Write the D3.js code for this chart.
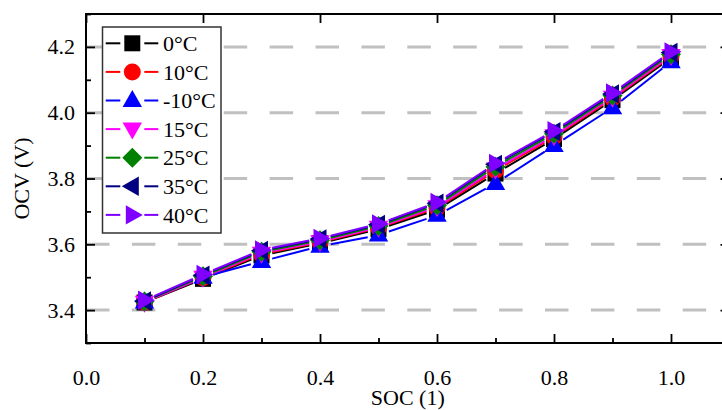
<!DOCTYPE html>
<html>
<head>
<meta charset="utf-8">
<script src="https://cdn.jsdelivr.net/npm/d3@7"></script>
<style>
  html, body { margin: 0; padding: 0; background: #fff; }
  svg { display: block; }
  text { font-family: "Liberation Serif", "Times New Roman", serif; fill: #000; }
</style>
</head>
<body>
<svg id="chart" width="722" height="410"></svg>
<script>
// ---- data ----
const soc = [0.1, 0.2, 0.3, 0.4, 0.5, 0.6, 0.7, 0.8, 0.9, 1.0];
const seriesNames = ["0°C", "10°C", "-10°C", "15°C", "25°C", "35°C", "40°C"];
const ocv_0   = [3.423, 3.495, 3.566, 3.603, 3.646, 3.705, 3.815, 3.920, 4.038, 4.166];
const ocv_10  = [3.424, 3.498, 3.570, 3.606, 3.650, 3.710, 3.824, 3.926, 4.044, 4.171];
const ocv_m10 = [3.425, 3.500, 3.548, 3.594, 3.628, 3.688, 3.785, 3.900, 4.015, 4.155];
const ocv_15  = [3.424, 3.500, 3.573, 3.608, 3.652, 3.714, 3.829, 3.930, 4.047, 4.174];
const ocv_25  = [3.426, 3.503, 3.577, 3.612, 3.656, 3.719, 3.836, 3.936, 4.052, 4.178];
const ocv_35  = [3.428, 3.506, 3.581, 3.616, 3.660, 3.725, 3.843, 3.942, 4.057, 4.183];
const ocv_40  = [3.430, 3.508, 3.583, 3.618, 3.662, 3.727, 3.846, 3.945, 4.060, 4.185];
const xMajorTicks = [0.0, 0.2, 0.4, 0.6, 0.8, 1.0];
const xMinorTicks = [0.1, 0.3, 0.5, 0.7, 0.9];
const yMajorTicks = [3.4, 3.6, 3.8, 4.0, 4.2];
const yMinorTicks = [3.3, 3.5, 3.7, 3.9, 4.1, 4.3];
const xTitle = "SOC (1)";
const yTitle = "OCV (V)";

// ---- styles ----
const colors = ["#000000", "#ff0000", "#0000ff", "#ff00ff", "#008000", "#000080", "#8000ff"];
const shapes = ["square", "circle", "up", "down", "diamond", "left", "right"];
const values = [ocv_0, ocv_10, ocv_m10, ocv_15, ocv_25, ocv_35, ocv_40];

function markerPath(shape) {
  const p = d3.path();
  switch (shape) {
    case "square": p.rect(-8, -8, 16, 16); break;
    case "circle": p.arc(0, 0, 8.5, 0, 2 * Math.PI); break;
    case "up": p.moveTo(0, -10.5); p.lineTo(9.7, 6.5); p.lineTo(-9.7, 6.5); p.closePath(); break;
    case "down": p.moveTo(0, 10.5); p.lineTo(9.7, -6.5); p.lineTo(-9.7, -6.5); p.closePath(); break;
    case "diamond": p.moveTo(0, -10); p.lineTo(10, 0); p.lineTo(0, 10); p.lineTo(-10, 0); p.closePath(); break;
    case "left": p.moveTo(-10.5, 0); p.lineTo(6.5, -9.7); p.lineTo(6.5, 9.7); p.closePath(); break;
    case "right": p.moveTo(10.5, 0); p.lineTo(-6.5, -9.7); p.lineTo(-6.5, 9.7); p.closePath(); break;
  }
  return p.toString();
}

const svg = d3.select("#chart");
const L = 86, R = 729.5, T = 14, B = 343;
const x = d3.scaleLinear().domain([0, 1.1]).range([L, R]);
const y = d3.scaleLinear().domain([3.3, 4.3]).range([B, T]);

// gridlines
svg.append("g").selectAll("line").data(yMajorTicks).join("line")
  .attr("x1", L).attr("x2", R)
  .attr("y1", d => y(d)).attr("y2", d => y(d))
  .attr("stroke", "#c0c0c0").attr("stroke-width", 3)
  .attr("stroke-dasharray", "23.5,22.4");

// axes
const fmt = d3.format(".1f");
function styleAxis(g) {
  g.select(".domain").remove();
  g.selectAll(".tick line").attr("stroke", "#000").attr("stroke-width", 1.8);
  g.selectAll("text").style("font-size", "22px").attr("fill", "#000");
}
const gx = svg.append("g").attr("transform", `translate(0,${B})`)
  .call(d3.axisBottom(x).tickValues(xMajorTicks).tickSize(-9).tickFormat(fmt));
styleAxis(gx);
gx.selectAll("text").attr("y", 42).attr("dy", 0);
const gxm = svg.append("g").attr("transform", `translate(0,${B})`)
  .call(d3.axisBottom(x).tickValues(xMinorTicks).tickSize(-5).tickFormat(""));
styleAxis(gxm);
const gxt = svg.append("g").attr("transform", `translate(0,${T})`)
  .call(d3.axisTop(x).tickValues(xMajorTicks).tickSize(-9).tickFormat(""));
styleAxis(gxt);

const gy = svg.append("g").attr("transform", `translate(${L},0)`)
  .call(d3.axisLeft(y).tickValues(yMajorTicks).tickSize(-9).tickFormat(fmt));
styleAxis(gy);
gy.selectAll("text").attr("x", -11).attr("dy", "0.32em");
const gym = svg.append("g").attr("transform", `translate(${L},0)`)
  .call(d3.axisLeft(y).tickValues(yMinorTicks).tickSize(-5).tickFormat(""));
styleAxis(gym);
const gyr = svg.append("g").attr("transform", `translate(${R},0)`)
  .call(d3.axisRight(y).tickValues(yMajorTicks).tickSize(-9).tickFormat(""));
styleAxis(gyr);

// frame
svg.append("rect").attr("x", L).attr("y", T).attr("width", R - L).attr("height", B - T)
  .attr("fill", "none").attr("stroke", "#000").attr("stroke-width", 2);

// axis titles
svg.append("text").attr("x", (L + R) / 2).attr("y", 405).attr("text-anchor", "middle")
  .style("font-size", "22px").text(xTitle);
svg.append("text").attr("transform", `translate(29,${(T + B) / 2}) rotate(-90)`)
  .attr("text-anchor", "middle").style("font-size", "22px").text(yTitle);

// series
const gap = 11;
const plot = svg.append("g");
values.forEach((vals, i) => {
  const pts = soc.map((s, k) => [x(s), y(vals[k])]);
  const segs = [];
  for (let k = 0; k < pts.length - 1; k++) {
    const [x0, y0] = pts[k], [x1, y1] = pts[k + 1];
    const len = Math.hypot(x1 - x0, y1 - y0);
    const ux = (x1 - x0) / len, uy = (y1 - y0) / len;
    segs.push([x0 + ux * gap, y0 + uy * gap, x1 - ux * gap, y1 - uy * gap]);
  }
  const g = plot.append("g");
  g.selectAll("line").data(segs).join("line")
    .attr("x1", d => d[0]).attr("y1", d => d[1]).attr("x2", d => d[2]).attr("y2", d => d[3])
    .attr("stroke", colors[i]).attr("stroke-width", 2);
  g.selectAll("path").data(pts).join("path")
    .attr("transform", d => `translate(${d[0]},${d[1]})`)
    .attr("d", markerPath(shapes[i]))
    .attr("fill", colors[i]);
});

// legend
const lg = svg.append("g");
lg.append("rect").attr("x", 102.5).attr("y", 27).attr("width", 118.5).attr("height", 206)
  .attr("fill", "#fff").attr("stroke", "#333").attr("stroke-width", 1.5);
seriesNames.forEach((name, i) => {
  const cy = 43.3 + i * 28.6;
  const cx = 132.3;
  const e = lg.append("g");
  e.append("line").attr("x1", 105.7).attr("x2", cx - 12).attr("y1", cy).attr("y2", cy)
    .attr("stroke", colors[i]).attr("stroke-width", 2);
  e.append("line").attr("x1", cx + 12).attr("x2", 158.3).attr("y1", cy).attr("y2", cy)
    .attr("stroke", colors[i]).attr("stroke-width", 2);
  e.append("path").attr("transform", `translate(${cx},${cy})`)
    .attr("d", markerPath(shapes[i])).attr("fill", colors[i]);
  e.append("text").attr("x", 163).attr("y", cy).attr("dy", "0.35em")
    .style("font-size", "22px").text(name);
});
</script>
</body>
</html>
